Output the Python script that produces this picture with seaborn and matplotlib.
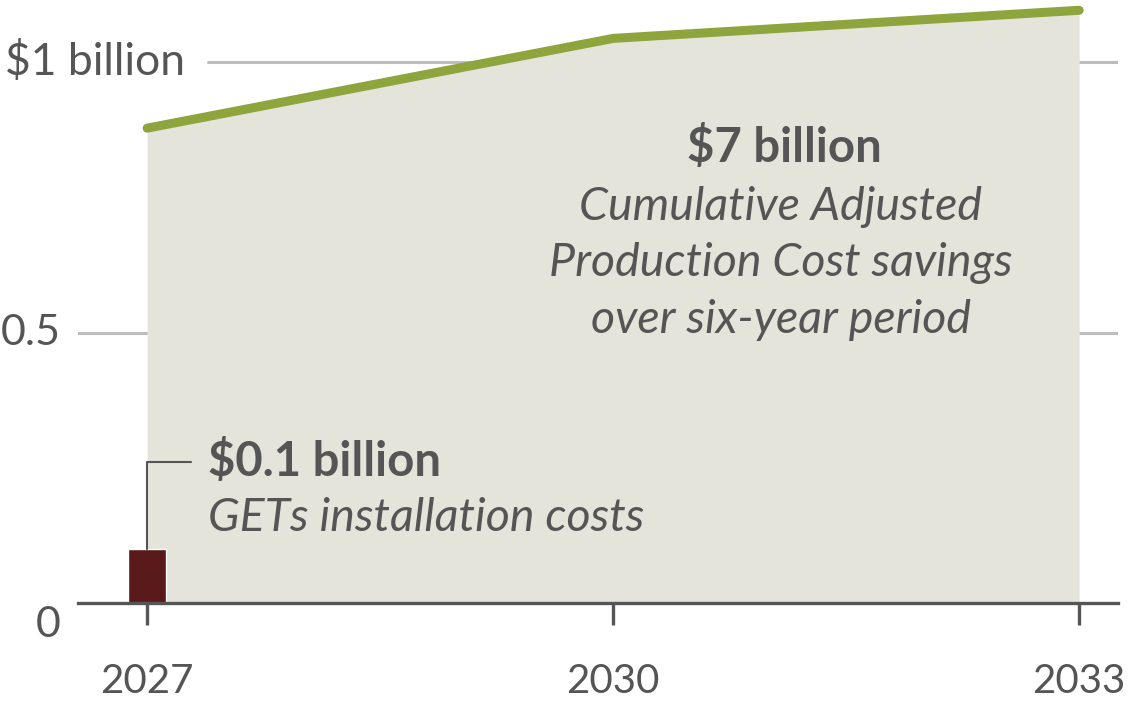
import matplotlib
matplotlib.use("Agg")
import matplotlib.pyplot as plt
import matplotlib.transforms as mtransforms
import seaborn as sns
import pandas as pd

# ---- data ----
years = [2027, 2030, 2033]
savings = [0.878, 1.044, 1.096]          # annual adjusted production cost savings ($ billion)
install_year = [2027]
install_cost = [0.10]                    # GETs installation costs ($ billion)
ytick_vals = [0, 0.5, 1.0]
ytick_labels = ["0", "0.5", "$1 billion"]
xtick_labels = ["2027", "2030", "2033"]

sns.set_theme(style="white")
plt.rcParams["font.family"] = ["Lato", "DejaVu Sans"]

TXT = "#555555"
GRID = "#bdbdbd"
AREA = "#e4e4da"
LINE = "#8ea43c"
BAR = "#5a1a1c"

fig = plt.figure(figsize=(11.29, 7.01), dpi=100)
ax = fig.add_axes([78 / 1129, 98 / 701, 1040 / 1129, 603 / 701])

df = pd.DataFrame({"year": years, "savings": savings})

# gridlines (drawn below the area)
ax.axhline(0.5, color=GRID, lw=2.2, zorder=0)
ax.axhline(1.0, xmin=0.125, color=GRID, lw=2.2, zorder=0)

ax.fill_between(df["year"], 0, df["savings"], color=AREA, lw=0, zorder=1)
sns.lineplot(data=df, x="year", y="savings", color=LINE, lw=6.5,
             solid_capstyle="round", ax=ax, zorder=3)
ax.bar(install_year, install_cost, width=0.24, color=BAR, zorder=2)

ax.set_xlim(2026.555, 2033.25)
ax.set_ylim(0, 1.115)

for s in ["top", "right", "left"]:
    ax.spines[s].set_visible(False)
ax.spines["bottom"].set_color(TXT)
ax.spines["bottom"].set_linewidth(2.4)
ax.spines["bottom"].set_zorder(4)

ax.set_xticks(years)
ax.set_xticklabels(xtick_labels)
ax.tick_params(axis="x", bottom=True, length=16, width=2.4, color=TXT,
               labelsize=29, labelcolor=TXT, pad=27)
ax.set_yticks([])
ax.set_xlabel("")
ax.set_ylabel("")

# y labels
trans = mtransforms.blended_transform_factory(ax.transAxes, ax.transData)
ax.text(-0.070, ytick_vals[2], ytick_labels[2], transform=trans, ha="left",
        va="center", fontsize=32, color=TXT)
ax.text(-0.017, ytick_vals[1], ytick_labels[1], transform=trans, ha="right",
        va="center", fontsize=31, color=TXT)
ax.text(-0.017, ytick_vals[0] - 0.04, ytick_labels[0], transform=trans, ha="right",
        va="center", fontsize=31, color=TXT)

# annotations
ax.text(2031.1, 0.843, "$7 billion", ha="center", va="center", fontsize=34,
        fontweight="bold", color=TXT, zorder=5)
ax.text(2031.08, 0.628, "Cumulative Adjusted\nProduction Cost savings\nover six-year period",
        ha="center", va="center", fontsize=33.5, style="italic", color=TXT,
        linespacing=1.43, zorder=5)

ax.plot([2027, 2027, 2027.28], [install_cost[0], 0.26, 0.26], color=TXT, lw=1.5, zorder=5)
ax.text(2027.39, 0.262, "$0.1 billion", ha="left", va="center", fontsize=34,
        fontweight="bold", color=TXT, zorder=5)
ax.text(2027.39, 0.158, "GETs installation costs", ha="left", va="center", fontsize=33.5,
        style="italic", color=TXT, zorder=5)

fig.savefig("out.png", dpi=100)
